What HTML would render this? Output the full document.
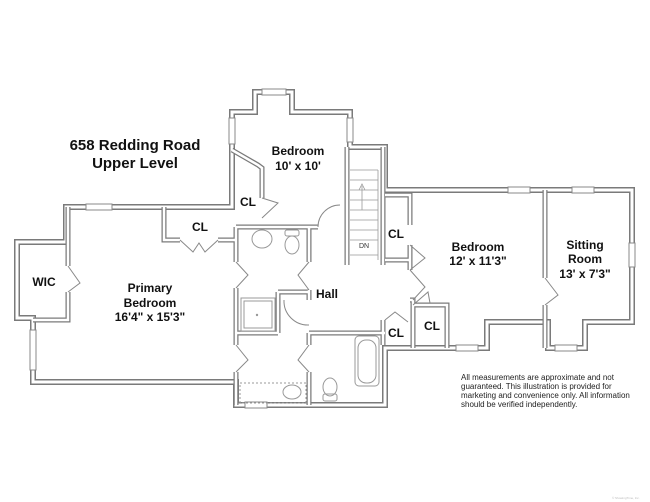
<!DOCTYPE html>
<html><head><style>
html,body{margin:0;padding:0;background:#fff;}
svg{display:block;}
text{font-family:"Liberation Sans",Arial,sans-serif;font-weight:bold;fill:#111;text-anchor:middle;}
.n{font-weight:normal;text-anchor:start;fill:#222;}
</style></head><body>
<svg width="650" height="502" viewBox="0 0 650 502">
<defs>
<path id="outer" d="M66,207 L232,207 L232,112 L255,112 L255,92 L292,92 L292,112 L350,112 L350,147 L385,147 L385,190 L632,190 L632,322 L585,322 L585,348 L548,348 L548,322 L487,322 L487,348 L385,348 L385,405 L236,405 L236,382 L33,382 L33,318 L17,318 L17,242 L66,242 Z"/>
<path id="inner" d="M164,207 L164,240 L180,240 M218,240 L236,240
M232,150 L258,165 L262,168 L262,198
M68,207 L68,266 M68,292 L68,320 L33,320
M236,227 L236,262 M236,288 L236,345 M236,372 L236,405
M236,227 L318,227
M309,227 L309,262 M309,290 L309,300
M278,292 L309,292 M278,292 L278,333 M236,333 L278,333
M309,333 L309,345 M309,372 L309,405
M309,333 L385,333
M347,147 L347,265 M383,147 L383,265
M385,195 L410,195 L410,225 M410,245 L410,270 M385,260 L410,260
M410,300 L413,300 L413,348 M383,320 L383,345 M413,305 L447,305 L447,348
M545,190 L545,278 M545,305 L545,348"/>
</defs>
<g fill="none" stroke-linejoin="miter">
<use href="#outer" stroke="#7a7a7a" stroke-width="6"/>
<use href="#outer" stroke="#fff" stroke-width="3"/>
<use href="#inner" stroke="#7a7a7a" stroke-width="5"/>
<use href="#inner" stroke="#fff" stroke-width="2.5"/>
</g>
<g fill="#fff" stroke="#888" stroke-width="1">
<rect x="86" y="204" width="26" height="6"/>
<rect x="262" y="89" width="24" height="6"/>
<rect x="229" y="118" width="6" height="26"/>
<rect x="347" y="118" width="6" height="24"/>
<rect x="508" y="187" width="22" height="6"/>
<rect x="572" y="187" width="22" height="6"/>
<rect x="629" y="243" width="6" height="24"/>
<rect x="456" y="345" width="22" height="6"/>
<rect x="555" y="345" width="22" height="6"/>
<rect x="30" y="330" width="6" height="40"/>
<rect x="245" y="402" width="22" height="6"/>
</g>
<g fill="none" stroke="#888" stroke-width="1">
<path d="M180,240 L193,252 L199,243 L205,252 L218,240"/>
<path d="M262,198 L278,203 L262,218"/>
<path d="M68,266 L80,283 L68,292"/>
<path d="M236,262 L248,275 L236,288"/>
<path d="M309,262 L298,275 L309,290"/>
<path d="M236,345 L248,360 L236,372"/>
<path d="M309,345 L298,360 L309,372"/>
<path d="M318,227 A22,22 0 0 1 340,205"/>
<path d="M284,300 A24,24 0 0 0 309,325"/>
<path d="M410,245 L425,258 L410,270"/>
<path d="M410,270 L425,287 L413,300"/>
<path d="M545,278 L558,295 L545,305"/>
<path d="M385,320 L395,312 L408,322"/>
<path d="M413,305 L428,292 L430,303"/>
</g>
<g stroke="#999" stroke-width="0.8" fill="none">
<path d="M350,170 L378,170 M350,180 L378,180 M350,190 L378,190 M350,200 L378,200 M350,210 L378,210 M350,220 L378,220 M350,230 L378,230 M350,240 L378,240 M350,255 L378,255"/>
<path d="M378,170 L378,260 M362,210 L362,186 M359,190 L362,184 L365,190"/>
</g>
<text x="364" y="248" style="font-size:7px;font-weight:normal;fill:#333">DN</text>
<g fill="none" stroke="#999" stroke-width="1">
<ellipse cx="262" cy="239" rx="10" ry="9"/>
<rect x="285" y="230" width="14" height="6" rx="2"/>
<ellipse cx="292" cy="245" rx="7" ry="9"/>
<rect x="241" y="298" width="34" height="33"/><rect x="244" y="301" width="28" height="27"/>
<rect x="240" y="383" width="66" height="20" stroke-dasharray="2,2"/>
<ellipse cx="292" cy="392" rx="9" ry="7"/>
<ellipse cx="330" cy="387" rx="7" ry="9"/><rect x="323" y="394" width="14" height="7" rx="2"/>
<rect x="355" y="336" width="24" height="50" rx="4"/><rect x="358" y="340" width="18" height="43" rx="8"/>
</g>
<circle cx="257" cy="315" r="1.2" fill="#999"/>
<text x="135" y="150" style="font-size:15px">658 Redding Road</text>
<text x="135" y="168" style="font-size:15px">Upper Level</text>
<text x="298" y="155" style="font-size:12px">Bedroom</text>
<text x="298" y="170" style="font-size:12px">10' x 10'</text>
<text x="248" y="206" style="font-size:12px">CL</text>
<text x="200" y="231" style="font-size:12px">CL</text>
<text x="44" y="286" style="font-size:12px">WIC</text>
<text x="150" y="292" style="font-size:12px">Primary</text>
<text x="150" y="307" style="font-size:12px">Bedroom</text>
<text x="150" y="321" style="font-size:12px">16'4" x 15'3"</text>
<text x="396" y="238" style="font-size:12px">CL</text>
<text x="478" y="251" style="font-size:12px">Bedroom</text>
<text x="478" y="265" style="font-size:12px">12' x 11'3"</text>
<text x="585" y="249" style="font-size:12px">Sitting</text>
<text x="585" y="263" style="font-size:12px">Room</text>
<text x="585" y="278" style="font-size:12px">13' x 7'3"</text>
<text x="327" y="298" style="font-size:12px">Hall</text>
<text x="432" y="330" style="font-size:12px">CL</text>
<text x="396" y="337" style="font-size:12px">CL</text>
<text class="n" x="461" y="380" style="font-size:8px">All measurements are approximate and not</text>
<text class="n" x="461" y="389" style="font-size:8px">guaranteed. This illustration is provided for</text>
<text class="n" x="461" y="398" style="font-size:8px">marketing and convenience only. All information</text>
<text class="n" x="461" y="407" style="font-size:8px">should be verified independently.</text>
<text class="n" x="612" y="499" style="font-size:3px;fill:#bbb">© ShowingTime, Inc.</text>
</svg>
</body></html>
